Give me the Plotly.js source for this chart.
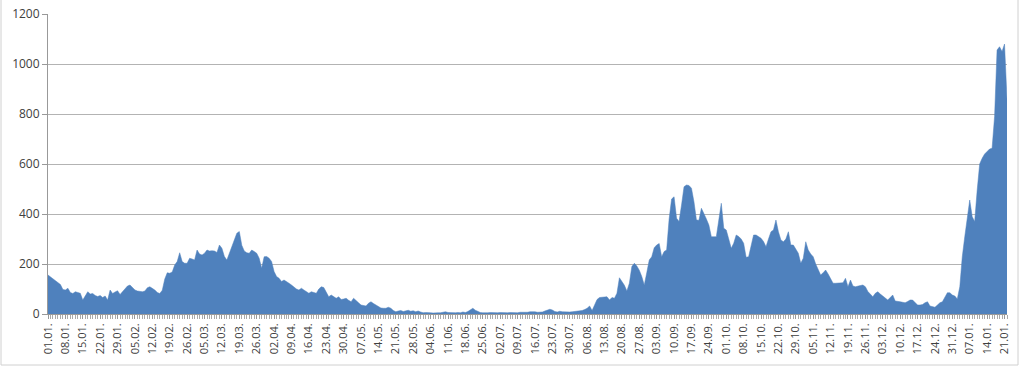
<!DOCTYPE html>
<html>
<head>
<meta charset="utf-8">
<script src="https://cdn.plot.ly/plotly-3.0.1.min.js"></script>
<style>
html,body{margin:0;padding:0;background:#fff;}
#chart{width:1024px;height:367px;}
</style>
</head>
<body>
<div id="chart"></div>
<script>
// Daily values, 01.01.2021 – 22.01.2022, split by month
const jan21 = [156,148,140,132,125,118,98,96,103,86,82,89,86,83,56,70,89,80,82,74,70,74,66,72,56,96,82,88,93,78,89];
const feb21 = [100,112,116,104,96,92,90,89,92,105,109,104,96,86,82,95,140,165,163,168,196,210,245,210,203,203,223,220];
const mar21 = [216,256,240,236,243,256,252,253,252,246,276,263,230,216,243,270,296,323,330,275,252,245,243,256,250,243,223,183,229,230,223];
const apr21 = [210,170,150,143,130,136,128,123,116,106,100,96,103,96,89,83,89,86,83,100,109,106,90,69,76,70,63,69,58,60];
const may21 = [63,55,49,63,52,45,36,34,32,43,49,42,36,30,24,23,23,27,23,14,9,12,14,10,12,15,11,13,9,12,8];
const jun21 = [5,6,7,5,4,6,5,5,7,9,6,5,4,5,6,5,8,6,10,18,23,15,9,6,5,4,5,6,5,4];
const jul21 = [5,6,5,4,5,6,5,6,5,7,6,8,7,9,10,9,7,6,8,12,15,19,16,10,8,11,9,8,9,8,9];
const aug21 = [10,11,12,14,18,23,32,14,36,58,66,67,69,69,56,66,63,83,145,130,115,92,123,190,203,192,175,150,116,165,216];
const sep21 = [229,265,276,282,229,250,256,380,460,469,383,370,436,509,516,514,503,449,376,375,423,403,380,356,309,309,309,376,443,343];
const oct21 = [336,300,263,283,316,310,300,283,227,229,270,316,316,310,303,290,269,300,329,336,376,329,296,289,300,329,276,276,260,243,203];
const nov21 = [223,289,256,240,229,200,176,156,165,176,160,143,123,123,123,123,125,143,109,136,112,109,110,114,116,109,90,80,69,83];
const dec21 = [89,80,72,62,56,66,76,52,49,49,47,45,50,56,56,45,36,36,38,45,49,32,29,27,36,45,49,65,85,85,76];
const jan22 = [72,60,109,229,309,380,456,389,370,496,600,623,640,650,660,663,790,1056,1069,1050,1080,860];

const tickLabels = ["01.01.","08.01.","15.01.","22.01.","29.01.","05.02.","12.02.","19.02.","26.02.","05.03.","12.03.","19.03.","26.03.","02.04.","09.04.","16.04.","23.04.","30.04.","07.05.","14.05.","21.05.","28.05.","04.06.","11.06.","18.06.","25.06.","02.07.","09.07.","16.07.","23.07.","30.07.","06.08.","13.08.","20.08.","27.08.","03.09.","10.09.","17.09.","24.09.","01.10.","08.10.","15.10.","22.10.","29.10.","05.11.","12.11.","19.11.","26.11.","03.12.","10.12.","17.12.","24.12.","31.12.","07.01.","14.01.","21.01."];

const values = [].concat(jan21,feb21,mar21,apr21,may21,jun21,jul21,aug21,sep21,oct21,nov21,dec21,jan22);
const days = values.map((v,i)=>i);
const tickVals = tickLabels.map((t,i)=>i*7);

const L=48, R=17, T=14, B=53, W=1024-L-R, H=367-T-B;
function px2x(p){return (p-L)/W;}
function px2y(p){return (367-B-p)/H;}

const trace = {
  x: days, y: values, type:'scatter', mode:'lines',
  fill:'tozeroy', fillcolor:'#4f81bd',
  line:{color:'#4f81bd', width:0.5},
  hoverinfo:'x+y'
};

const layout = {
  width:1024, height:367,
  margin:{l:L, r:R, t:T, b:B, pad:0},
  paper_bgcolor:'#ffffff', plot_bgcolor:'#ffffff',
  showlegend:false,
  font:{family:'"Open Sans", "Liberation Sans", sans-serif', color:'#404040', size:11},
  xaxis:{
    range:[0, days.length-1],
    tickmode:'array', tickvals:tickVals, ticktext:tickLabels,
    tickangle:-90,
    tickfont:{size:11, color:'#404040'},
    ticks:'outside', ticklen:4, tickcolor:'#999999',
    minor:{tickmode:'linear', tick0:0, dtick:1, ticks:'outside', ticklen:4, tickcolor:'#aaaaaa', showgrid:false},
    showgrid:false, zeroline:false,
    showline:true, linecolor:'#999999', linewidth:1,
    fixedrange:true
  },
  yaxis:{
    range:[0,1200], dtick:200, tick0:0,
    tickfont:{size:12, color:'#404040'},
    ticks:'outside', ticklen:5, tickcolor:'#999999',
    showgrid:true, gridcolor:'#b3b3b3', gridwidth:1,
    zeroline:false,
    showline:true, linecolor:'#999999', linewidth:1,
    fixedrange:true
  },
  shapes:[
    {type:'rect', xref:'paper', yref:'paper', x0:px2x(1), x1:px2x(1018), y0:px2y(365), y1:px2y(-2),
     line:{color:'#d0d0d0', width:1}, fillcolor:'rgba(0,0,0,0)', layer:'below'}
  ]
};

Plotly.newPlot('chart', [trace], layout, {displayModeBar:false, staticPlot:true});
</script>
</body>
</html>
